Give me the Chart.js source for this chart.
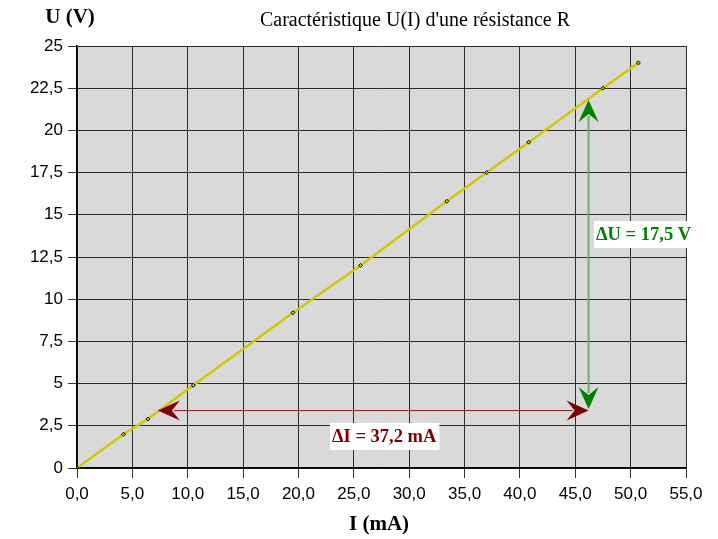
<!DOCTYPE html>
<html>
<head>
<meta charset="utf-8">
<script src="https://cdn.jsdelivr.net/npm/chart.js@4"></script>
<style>
  body { margin: 0; background: #fff; }
  #wrap { width: 718px; height: 539px; }
</style>
</head>
<body>
<div id="wrap"><canvas id="chart" width="718" height="539"></canvas></div>
<script>
// values
const courant = [0, 4.2, 6.4, 10.5, 19.5, 25.6, 33.4, 37.0, 40.8, 47.5, 50.7];
const tension = [0, 2.0, 2.9, 4.9, 9.2, 12.0, 15.8, 17.5, 19.3, 22.5, 24.0];

// arrows: [x, y] in data units
const deltaU = { from: [46.2, 3.5], to: [46.2, 21.8], label: '\u0394U = 17,5 V' };
const deltaI = { from: [46.2, 3.4], to: [7.3, 3.4], label: '\u0394I = 37,2 mA' };

const titleText = "Caractéristique U(I) d'une résistance R";

const points = courant.map((x, i) => ({ x: x, y: tension[i] }));

function fmt(v, dec) {
  return dec ? v.toFixed(1).replace('.', ',') : String(v).replace('.', ',');
}

function arrowHead(ctx, x1, y1, x2, y2, color) {
  const ang = Math.atan2(y2 - y1, x2 - x1);
  const len = 22, half = 10, notch = 14;
  ctx.save();
  ctx.translate(x2, y2);
  ctx.rotate(ang);
  ctx.fillStyle = color;
  ctx.beginPath();
  ctx.moveTo(0, 0);
  ctx.lineTo(-len, -half);
  ctx.lineTo(-notch, 0);
  ctx.lineTo(-len, half);
  ctx.closePath();
  ctx.fill();
  ctx.restore();
}

const decor = {
  id: 'decor',
  beforeDraw(chart) {
    const { ctx, chartArea: a } = chart;
    ctx.save();
    ctx.fillStyle = '#d9d9d9';
    ctx.fillRect(a.left, a.top, a.right - a.left, a.bottom - a.top);
    ctx.restore();
  },
  afterDatasetsDraw(chart) {
    const { ctx, scales: { x, y } } = chart;
    ctx.save();

    // green vertical arrow
    let x1 = x.getPixelForValue(deltaU.from[0]), y1 = y.getPixelForValue(deltaU.from[1]);
    let x2 = x.getPixelForValue(deltaU.to[0]), y2 = y.getPixelForValue(deltaU.to[1]);
    ctx.strokeStyle = '#6aaf6a';
    ctx.lineWidth = 2;
    ctx.beginPath();
    ctx.moveTo(x1, y1 - 16); ctx.lineTo(x2, y2 + 16);
    ctx.stroke();
    arrowHead(ctx, x2, y1 - 60, x1, y1, '#008000');
    arrowHead(ctx, x1, y2 + 60, x2, y2, '#008000');

    // dark red horizontal arrow
    x1 = x.getPixelForValue(deltaI.from[0]); y1 = y.getPixelForValue(deltaI.from[1]);
    x2 = x.getPixelForValue(deltaI.to[0]); y2 = y.getPixelForValue(deltaI.to[1]);
    ctx.strokeStyle = '#8b1a1a';
    ctx.lineWidth = 1;
    ctx.beginPath();
    ctx.moveTo(x1 - 16, y1); ctx.lineTo(x2 + 16, y2);
    ctx.stroke();
    arrowHead(ctx, x1 - 60, y1, x1, y1, '#800000');
    arrowHead(ctx, x2 + 60, y2, x2, y2, '#800000');

    // labels in white boxes
    ctx.font = 'bold 18.5px "Liberation Serif", "Times New Roman", serif';
    ctx.textBaseline = 'middle';
    ctx.textAlign = 'left';
    let w = ctx.measureText(deltaU.label).width;
    ctx.fillStyle = '#fff';
    ctx.fillRect(594, 221, w + 5, 27);
    ctx.fillStyle = '#008000';
    ctx.fillText(deltaU.label, 596, 235);

    w = ctx.measureText(deltaI.label).width;
    ctx.fillStyle = '#fff';
    ctx.fillRect(330, 423, w + 5, 27);
    ctx.fillStyle = '#800000';
    ctx.fillText(deltaI.label, 332, 437);

    ctx.restore();
  },
  afterDraw(chart) {
    const { ctx } = chart;
    ctx.save();
    ctx.fillStyle = '#000';
    ctx.textBaseline = 'middle';
    ctx.textAlign = 'center';
    ctx.font = '20px "Liberation Serif", "Times New Roman", serif';
    ctx.fillText(titleText, 415, 21);
    ctx.font = 'bold 21px "Liberation Serif", "Times New Roman", serif';
    ctx.fillText('U (V)', 70, 18);
    ctx.fillText('I (mA)', 379, 525);
    ctx.restore();
  }
};

new Chart(document.getElementById('chart'), {
  type: 'line',
  data: {
    datasets: [{
      data: points,
      borderColor: '#d2c800',
      borderWidth: 2.5,
      pointStyle: 'rectRot',
      pointRadius: 2,
      pointBackgroundColor: '#d2c800',
      pointBorderColor: '#000',
      pointBorderWidth: 1,
      tension: 0
    }]
  },
  options: {
    responsive: false,
    animation: false,
    layout: { padding: { left: 0, right: 32, top: 46, bottom: 0 } },
    plugins: {
      legend: { display: false },
      tooltip: { enabled: false }
    },
    scales: {
      x: {
        type: 'linear',
        min: 0,
        max: 55,
        afterFit(scale) { scale.height = 539 - 468; },
        grid: { color: '#2a2a2a', lineWidth: 1, tickLength: 10, tickColor: '#333' },
        border: { color: '#000', width: 1.5 },
        ticks: {
          stepSize: 5,
          padding: 6,
          color: '#000',
          font: { family: '"Liberation Sans", Arial, sans-serif', size: 17 },
          callback: v => fmt(v, true)
        }
      },
      y: {
        min: 0,
        max: 25,
        afterFit(scale) { scale.width = 77; },
        grid: { color: '#2a2a2a', lineWidth: 1, tickLength: 9, tickColor: '#333' },
        border: { color: '#000', width: 1.5 },
        ticks: {
          stepSize: 2.5,
          padding: 5,
          color: '#000',
          font: { family: '"Liberation Sans", Arial, sans-serif', size: 17 },
          callback: v => fmt(v, false)
        }
      }
    }
  },
  plugins: [decor]
});
</script>
</body>
</html>
